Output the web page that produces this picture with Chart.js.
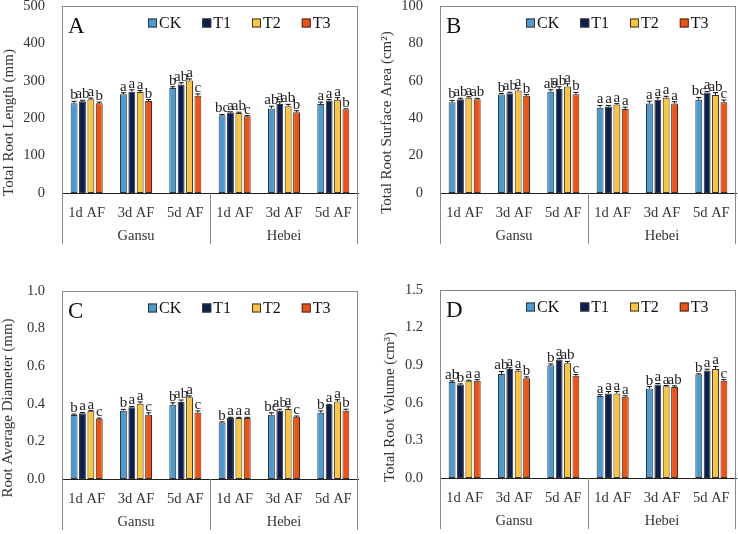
<!DOCTYPE html>
<html>
<head>
<meta charset="utf-8">
<script src="https://cdn.jsdelivr.net/npm/chart.js@4.4.1/dist/chart.umd.min.js"></script>
<style>
  html, body { margin: 0; padding: 0; background: #fff; }
  #wrap { position: relative; width: 738px; height: 534px; }
  canvas { position: absolute; }
</style>
</head>
<body>
<div id="wrap">
  <canvas id="cA" width="369" height="267" style="left:0;top:0"></canvas>
  <canvas id="cB" width="369" height="267" style="left:369px;top:0"></canvas>
  <canvas id="cC" width="369" height="267" style="left:0;top:267px"></canvas>
  <canvas id="cD" width="369" height="267" style="left:369px;top:267px"></canvas>
</div>
<script>
// Root traits after flooding, Gansu vs Hebei, 4 panels of grouped bars with SE + letters

const categories = ['1d AF', '3d AF', '5d AF', '1d AF', '3d AF', '5d AF'];
const regions = ['Gansu', 'Hebei'];
const treatments = ['CK', 'T1', 'T2', 'T3'];
const colors = ['#4a9ad4', '#0c1e4d', '#fec43a', '#f4510e'];

// rows: CK, T1, T2, T3
const lengthMean = [
  [240, 264, 281, 208, 226, 238],
  [245, 271, 290, 215, 238, 247],
  [251, 270, 301, 214, 232, 249],
  [240, 246, 260, 205, 216, 223]
];
const lengthErr = [
  [5, 4, 3, 2, 6, 5],
  [3, 5, 5, 2, 6, 3],
  [3, 4, 4, 2, 5, 6],
  [3, 4, 5, 2, 4, 2]
];
const lengthSig = [
  ['b', 'a', 'b', 'bc', 'ab', 'a'],
  ['ab', 'a', 'ab', 'a', 'a', 'a'],
  ['a', 'a', 'a', 'ab', 'ab', 'a'],
  ['b', 'b', 'c', 'c', 'b', 'b']
];

const areaMean = [
  [48.5, 52.7, 54.2, 45.6, 47.8, 49.8],
  [50.2, 53.4, 55.6, 46.2, 49.8, 53.8],
  [50.9, 54.8, 57.0, 47.3, 50.9, 52.4],
  [50.2, 52.0, 52.8, 44.9, 47.8, 48.5]
];
const areaErr = [
  [1.0, 0.5, 1.0, 1.2, 1.3, 1.3],
  [0.5, 0.5, 1.2, 0.6, 1.2, 0.5],
  [0.6, 1.2, 1.4, 0.5, 0.8, 1.3],
  [0.4, 0.6, 1.0, 1.0, 1.0, 1.2]
];
const areaSig = [
  ['b', 'b', 'ab', 'a', 'a', 'bc'],
  ['ab', 'ab', 'ab', 'a', 'a', 'a'],
  ['a', 'a', 'a', 'a', 'a', 'ab'],
  ['ab', 'b', 'b', 'a', 'a', 'c']
];

const diamMean = [
  [0.340, 0.363, 0.395, 0.300, 0.342, 0.352],
  [0.350, 0.382, 0.410, 0.324, 0.363, 0.393],
  [0.360, 0.400, 0.435, 0.324, 0.372, 0.412],
  [0.320, 0.342, 0.352, 0.324, 0.331, 0.363]
];
const diamErr = [
  [0.005, 0.007, 0.010, 0.004, 0.010, 0.010],
  [0.004, 0.004, 0.010, 0.004, 0.008, 0.004],
  [0.004, 0.010, 0.007, 0.004, 0.012, 0.010],
  [0.004, 0.010, 0.010, 0.004, 0.004, 0.008]
];
const diamSig = [
  ['b', 'b', 'b', 'b', 'bc', 'b'],
  ['a', 'a', 'ab', 'a', 'ab', 'a'],
  ['a', 'a', 'a', 'a', 'a', 'a'],
  ['c', 'c', 'c', 'a', 'c', 'b']
];

const volMean = [
  [0.765, 0.830, 0.900, 0.655, 0.715, 0.826],
  [0.746, 0.870, 0.945, 0.675, 0.746, 0.858],
  [0.775, 0.855, 0.915, 0.675, 0.733, 0.870],
  [0.775, 0.795, 0.815, 0.648, 0.727, 0.775]
];
const volErr = [
  [0.010, 0.020, 0.010, 0.010, 0.015, 0.005],
  [0.005, 0.010, 0.010, 0.015, 0.008, 0.010],
  [0.005, 0.010, 0.015, 0.015, 0.005, 0.020],
  [0.010, 0.012, 0.010, 0.008, 0.008, 0.010]
];
const volSig = [
  ['ab', 'ab', 'b', 'a', 'b', 'b'],
  ['b', 'a', 'a', 'a', 'a', 'a'],
  ['a', 'a', 'ab', 'a', 'a', 'a'],
  ['a', 'b', 'c', 'a', 'ab', 'c']
];

const serif = "'Liberation Serif', 'Times New Roman', serif";
const frameColor = '#8a8a8a';
Chart.defaults.font.family = serif;
Chart.defaults.color = '#333';

function decorPlugin(p) {
  return {
    id: 'decor',
    beforeDatasetsDraw(chart) {
      const { ctx, chartArea: a, scales: { x } } = chart;
      const mid = (x.getPixelForValue(2) + x.getPixelForValue(3)) / 2;
      ctx.save();
      ctx.strokeStyle = frameColor;
      ctx.lineWidth = 1;
      ctx.beginPath();
      ctx.moveTo(a.left, a.top + 0.5);
      ctx.lineTo(a.right, a.top + 0.5);
      ctx.moveTo(a.right - 0.5, a.top);
      ctx.lineTo(a.right - 0.5, a.bottom);
      [a.left + 0.5, Math.round(mid) + 0.5, a.right - 0.5].forEach(px => {
        ctx.moveTo(px, a.bottom);
        ctx.lineTo(px, a.bottom + 51);
      });
      ctx.stroke();
      ctx.restore();
    },
    afterDatasetsDraw(chart) {
      const { ctx, chartArea: a, scales: { x, y } } = chart;
      ctx.save();
      // error bars and significance letters
      ctx.strokeStyle = '#111';
      ctx.lineWidth = 1;
      ctx.fillStyle = '#222';
      ctx.font = '15px ' + serif;
      ctx.textAlign = 'center';
      ctx.textBaseline = 'alphabetic';
      chart.data.datasets.forEach((ds, i) => {
        chart.getDatasetMeta(i).data.forEach((bar, j) => {
          const top = y.getPixelForValue(ds.data[j] + p.err[i][j]);
          ctx.beginPath();
          ctx.moveTo(bar.x, bar.y);
          ctx.lineTo(bar.x, top);
          ctx.moveTo(bar.x - 2.5, top);
          ctx.lineTo(bar.x + 2.5, top);
          ctx.stroke();
          ctx.fillText(p.sig[i][j], bar.x, top - 2);
        });
      });

      // legend across the top of the frame
      ctx.font = '16px ' + serif;
      ctx.textAlign = 'left';
      ctx.textBaseline = 'middle';
      const ly = a.top + 17;
      let lx = a.left + 86;
      chart.data.datasets.forEach(ds => {
        ctx.fillStyle = ds.backgroundColor;
        ctx.fillRect(lx, ly - 4.5, 9, 9);
        ctx.strokeStyle = '#333';
        ctx.strokeRect(lx + 0.5, ly - 4, 8, 8);
        ctx.fillStyle = '#111';
        ctx.fillText(ds.label, lx + 11, ly + 1);
        lx += 11 + ctx.measureText(ds.label).width + 21;
      });

      // region labels under the categories
      ctx.font = '14.5px ' + serif;
      ctx.fillStyle = '#333';
      ctx.textAlign = 'center';
      ctx.fillText(regions[0], x.getPixelForValue(1), a.bottom + 43);
      ctx.fillText(regions[1], x.getPixelForValue(4), a.bottom + 43);
      // panel tag
      ctx.font = '23px ' + serif;
      ctx.fillStyle = '#111';
      ctx.textAlign = 'left';
      ctx.textBaseline = 'alphabetic';
      ctx.fillText(p.tag, a.left + 6, a.top + 27);
      // y title, centred on frame incl. category band
      ctx.font = '15px ' + serif;
      ctx.fillStyle = '#333';
      ctx.textAlign = 'center';
      ctx.textBaseline = 'middle';
      ctx.translate(p.titleX, (a.top + a.bottom + 46) / 2);
      ctx.rotate(-Math.PI / 2);
      ctx.fillText(p.title, 0, 0);
      ctx.restore();
    }
  };
}

function makePanel(id, p) {
  new Chart(document.getElementById(id), {
    type: 'bar',
    data: {
      labels: categories,
      datasets: treatments.map((t, i) => ({
        label: t,
        data: p.mean[i],
        backgroundColor: colors[i],
        borderColor: '#333',
        borderWidth: 1,
        borderSkipped: false,
        categoryPercentage: 0.68,
        barPercentage: 0.82
      }))
    },
    options: {
      responsive: false,
      animation: false,
      layout: { padding: { left: 0, right: p.padRight, top: p.padTop, bottom: 267 - p.plotBottom - 50 } },
      plugins: {
        tooltip: { enabled: false },
        legend: { display: false }
      },
      scales: {
        x: {
          grid: { display: false, drawTicks: false },
          border: { display: true, color: '#222', width: 1 },
          ticks: { padding: 11, maxRotation: 0, autoSkip: false, font: { size: 14.5 } },
          afterFit(s) { s.height = 50; s.paddingLeft = 0; s.paddingRight = 0; }
        },
        y: {
          min: 0,
          max: p.max,
          grid: { display: false, drawTicks: false },
          border: { display: true, color: frameColor, width: 1 },
          ticks: {
            stepSize: p.step,
            padding: 17,
            font: { size: 14.5 },
            callback: v => v.toFixed(p.digits)
          },
          afterFit(s) { s.width = p.yWidth; s.paddingTop = 0; s.paddingBottom = 0; }
        }
      }
    },
    plugins: [decorPlugin(p)]
  });
}

makePanel('cA', {
  mean: lengthMean, err: lengthErr, sig: lengthSig, max: 500, step: 100, digits: 0,
  title: 'Total Root Length (mm)', tag: 'A', yWidth: 62, padRight: 11, padTop: 6, plotBottom: 193, titleX: 9
});
makePanel('cB', {
  mean: areaMean, err: areaErr, sig: areaSig, max: 100, step: 20, digits: 0,
  title: 'Total Root Surface Area (cm²)', tag: 'B', yWidth: 71, padRight: 2, padTop: 6, plotBottom: 193, titleX: 18
});
makePanel('cC', {
  mean: diamMean, err: diamErr, sig: diamSig, max: 1.0, step: 0.2, digits: 1,
  title: 'Root Average Diameter (mm)', tag: 'C', yWidth: 62, padRight: 11, padTop: 24, plotBottom: 212, titleX: 8
});
makePanel('cD', {
  mean: volMean, err: volErr, sig: volSig, max: 1.5, step: 0.3, digits: 1,
  title: 'Total Root Volume (cm³)', tag: 'D', yWidth: 71, padRight: 2, padTop: 23, plotBottom: 211, titleX: 21
});
</script>
</body>
</html>
